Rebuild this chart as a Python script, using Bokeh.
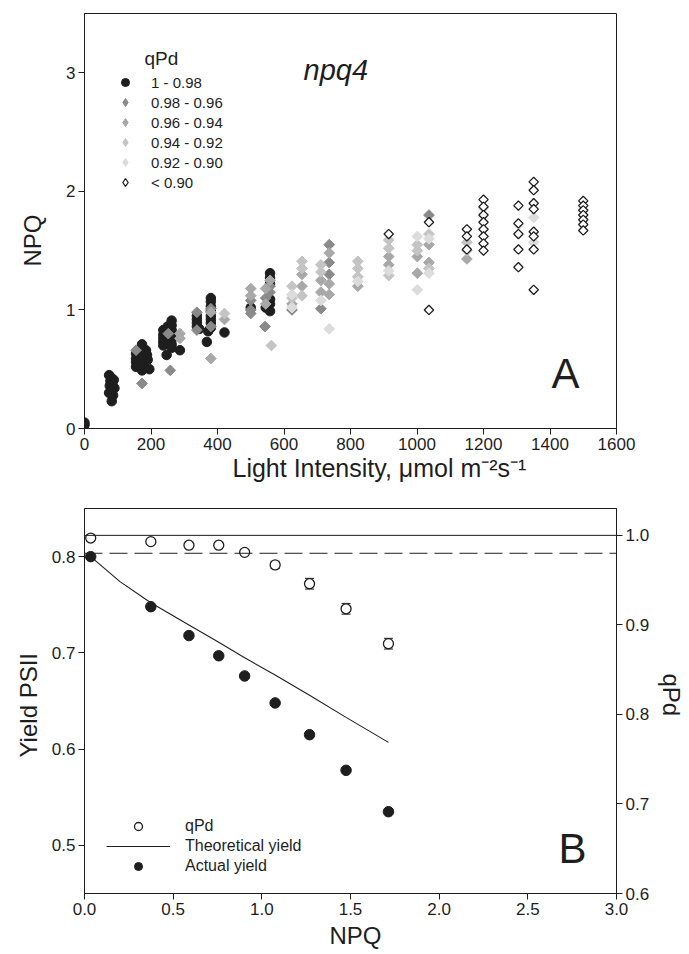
import numpy as np
from bokeh.plotting import figure
from bokeh.layouts import column
from bokeh.models import (ColumnDataSource, Range1d, LinearAxis, FixedTicker,
                          NumeralTickFormatter, Legend, LegendItem, Label, Span,
                          Whisker, TeeHead, Title)
from bokeh.embed import file_html
from bokeh.resources import INLINE

FONT = "Liberation Sans"
INK = "#1e1e1e"

# ---------------- Panel A: NPQ vs light intensity, by qPd class ----------------
light_c1 = [0, 0,
            74, 80, 88, 78, 84, 76, 90, 82, 74, 86, 82,
            155, 155, 155, 155, 173, 173, 173, 173, 173, 173, 185, 188, 190, 195,
            237, 237, 237, 237, 237, 247, 250, 250, 250, 262, 262, 262, 262, 262, 262, 262, 287,
            338, 338, 338, 338, 345,
            380, 380, 380, 380, 380, 380, 380, 380, 372, 368,
            421, 500,
            558, 558, 558, 558, 558, 545, 558]
npq_c1 = [0.03, 0.05,
          0.45, 0.43, 0.41, 0.40, 0.38, 0.36, 0.34, 0.32, 0.30, 0.28, 0.23,
          0.63, 0.59, 0.56, 0.52, 0.71, 0.67, 0.64, 0.60, 0.55, 0.49, 0.66, 0.62, 0.58, 0.50,
          0.83, 0.79, 0.76, 0.73, 0.70, 0.62, 0.86, 0.78, 0.74, 0.91, 0.87, 0.83, 0.79, 0.75, 0.71, 0.68, 0.66,
          0.95, 0.92, 0.89, 0.86, 0.84,
          1.10, 1.07, 1.03, 0.99, 0.95, 0.92, 0.89, 0.85, 0.82, 0.73,
          0.81, 1.02,
          1.31, 1.27, 1.22, 1.09, 1.05, 1.02, 0.99]

light_c2 = [155, 173, 252, 258, 338, 338, 380, 380, 500, 500, 500, 543, 545, 558, 558,
            624, 711, 736, 736, 736, 1036]
npq_c2 = [0.66, 0.38, 0.80, 0.49, 0.98, 0.83, 1.01, 0.86, 1.08, 1.00, 0.97, 0.86, 1.10, 1.20, 1.15,
          1.00, 1.01, 1.55, 1.40, 1.30, 1.80]

light_c3 = [287, 287, 380, 380, 421, 500, 500, 545, 545, 558, 624, 654, 654, 711, 711,
            736, 736, 736, 822, 915, 915, 1001, 1001, 1036, 1036, 1150]
npq_c3 = [0.80, 0.76, 0.59, 0.98, 0.92, 1.18, 1.12, 1.18, 1.05, 1.25, 1.05, 1.30, 1.20, 1.25, 1.15,
          1.48, 1.22, 1.13, 1.20, 1.45, 1.38, 1.45, 1.31, 1.55, 1.40, 1.43]

light_c4 = [421, 562, 624, 624, 654, 654, 654, 711, 711, 822, 822, 822, 915, 915, 915,
            1001, 1001, 1036, 1036, 1150, 1150]
npq_c4 = [0.97, 0.70, 1.20, 1.10, 1.41, 1.35, 1.12, 1.38, 1.32, 1.41, 1.35, 1.28, 1.59, 1.52, 1.29,
          1.55, 1.50, 1.64, 1.35, 1.57, 1.50]

light_c5 = [736, 624, 624, 711, 822, 915, 1001, 1001, 1036, 1036, 1200, 1200, 1305, 1351, 1351]
npq_c5 = [0.84, 1.13, 1.02, 1.08, 1.24, 1.33, 1.62, 1.17, 1.60, 1.31, 1.86, 1.62, 1.72, 1.78, 1.57]

light_c6 = [915, 1036, 1036, 1150, 1150, 1150,
            1200, 1200, 1200, 1200, 1200, 1200, 1200, 1200,
            1305, 1305, 1305, 1305, 1305,
            1351, 1351, 1351, 1351, 1351, 1351, 1351, 1351,
            1500, 1500, 1500, 1500, 1500, 1500, 1500]
npq_c6 = [1.64, 1.74, 1.00, 1.68, 1.62, 1.51,
          1.93, 1.87, 1.80, 1.74, 1.68, 1.62, 1.56, 1.50,
          1.88, 1.73, 1.64, 1.51, 1.36,
          2.08, 2.01, 1.90, 1.85, 1.66, 1.62, 1.51, 1.17,
          1.92, 1.88, 1.84, 1.80, 1.76, 1.72, 1.67]

class_labels = ["1 - 0.98", "0.98 - 0.96", "0.96 - 0.94", "0.94 - 0.92", "0.92 - 0.90", "< 0.90"]
class_fill = [INK, "#8a8a8a", "#a8a8a8", "#c4c4c4", "#dcdcdc", "white"]

x_ticks_a = [0, 200, 400, 600, 800, 1000, 1200, 1400, 1600]
y_ticks_a = [0, 1, 2, 3]

# ---------------- Panel B: yield and qPd vs NPQ ----------------
npq_b = [0.035, 0.374, 0.589, 0.757, 0.903, 1.075, 1.269, 1.475, 1.714]
qpd_b = [0.997, 0.993, 0.989, 0.989, 0.981, 0.967, 0.946, 0.918, 0.879]
qpd_err = [0.002, 0.002, 0.002, 0.002, 0.003, 0.004, 0.006, 0.006, 0.006]
yield_actual = [0.800, 0.748, 0.718, 0.697, 0.676, 0.648, 0.615, 0.578, 0.535]

npq_theory = [0.035, 0.20, 0.374, 0.589, 0.757, 0.903, 1.075, 1.269, 1.475, 1.714]
yield_theory = [0.800, 0.774, 0.752, 0.729, 0.711, 0.695, 0.677, 0.656, 0.633, 0.607]

qpd_ref_solid = 1.0
qpd_ref_dash = 0.98

x_ticks_b = [0.0, 0.5, 1.0, 1.5, 2.0, 2.5, 3.0]
y_ticks_b = [0.5, 0.6, 0.7, 0.8]
y2_ticks_b = [0.6, 0.7, 0.8, 0.9, 1.0]


def style_axis(ax, ticks, fmt=None):
    ax.ticker = FixedTicker(ticks=ticks)
    if fmt:
        ax.formatter = NumeralTickFormatter(format=fmt)
    ax.axis_line_color = INK
    ax.axis_line_width = 1
    ax.major_tick_line_color = INK
    ax.major_tick_out = 6
    ax.major_tick_in = 0
    ax.minor_tick_line_color = None
    ax.major_label_text_font = FONT
    ax.major_label_text_font_size = "17px"
    ax.major_label_text_color = INK
    ax.major_label_standoff = 3


def base_fig(width, height, xr, yr, borders):
    p = figure(width=width, height=height, x_range=xr, y_range=yr,
               output_backend="svg", toolbar_location=None,
               min_border_left=borders[0], min_border_right=borders[1],
               min_border_top=borders[2], min_border_bottom=borders[3])
    p.xgrid.visible = False
    p.ygrid.visible = False
    p.outline_line_color = INK
    p.outline_line_width = 1
    p.background_fill_color = "white"
    p.border_fill_color = "white"
    return p


def add_text(p, x, y, text, size, align="left", style="normal"):
    p.add_layout(Label(x=x, y=y, x_units="screen", y_units="screen", text=text,
                       text_font=FONT, text_font_size=size, text_color=INK,
                       text_align=align, text_baseline="middle",
                       text_font_style=style))


def add_axis_title(p, side, text, offset, standoff, size="24px"):
    p.add_layout(Title(text=text, align="left", offset=offset, standoff=standoff,
                       vertical_align="middle", text_font=FONT, text_font_size=size,
                       text_font_style="normal", text_color=INK), side)


# ---- figure A ----
pa = base_fig(689, 485, Range1d(0, 1600), Range1d(0, 3.5), (83, 70, 13, 57))
style_axis(pa.xaxis[0], x_ticks_a)
style_axis(pa.yaxis[0], y_ticks_a)

groups = [(light_c1, npq_c1), (light_c2, npq_c2), (light_c3, npq_c3),
          (light_c4, npq_c4), (light_c5, npq_c5), (light_c6, npq_c6)]
items = []
for i, ((lx, ny), lab, fc) in enumerate(zip(groups, class_labels, class_fill)):
    src = ColumnDataSource(dict(light=lx, npq=ny))
    if i == 0:
        r = pa.scatter("light", "npq", source=src, marker="circle", size=9.5,
                       fill_color=fc, line_color=fc)
        items.append(LegendItem(label=lab, renderers=[r]))
        continue
    if i == 5:
        style = dict(fill_color="white", line_color=INK, line_width=1.3)
        size = 6.6
    else:
        style = dict(fill_color=fc, line_color=fc)
        size = 7.6
    pa.scatter("light", "npq", source=src, marker="square", angle=np.pi / 4,
               size=size, **style)
    # legend key: an upright diamond that has no visible point in the plot area
    key = pa.scatter(x=[np.nan], y=[np.nan], marker="diamond", size=size, **style)
    items.append(LegendItem(label=lab, renderers=[key]))

leg_a = Legend(items=items, location=(31, 236), orientation="vertical",
               glyph_width=20, glyph_height=20, label_height=20, spacing=0,
               label_standoff=16, padding=0, margin=0,
               label_text_font=FONT, label_text_font_size="15px", label_text_color=INK,
               border_line_color=None, background_fill_alpha=0)
pa.add_layout(leg_a, "center")

add_text(pa, 60, 370, "qPd", "19px")
add_text(pa, 219, 359, "npq4", "29px", style="italic")
add_text(pa, 467, 55, "A", "42px")
add_axis_title(pa, "left", "NPQ", 162, 34)
add_axis_title(pa, "below", "Light Intensity, \u03bcmol m\u207b\u00b2s\u207b\u00b9", 148, 0, "25px")

# ---- figure B ----
pb = base_fig(689, 469, Range1d(0, 3.0), Range1d(0.45, 0.85), (81, 73, 23, 61))
pb.extra_y_ranges = {"qpd": Range1d(0.6, 1.03)}
style_axis(pb.xaxis[0], x_ticks_b, "0.0")
style_axis(pb.yaxis[0], y_ticks_b, "0.0")
ax_r = LinearAxis(y_range_name="qpd")
style_axis(ax_r, y2_ticks_b, "0.0")
pb.add_layout(ax_r, "right")

pb.add_layout(Span(location=qpd_ref_solid, dimension="width", y_range_name="qpd",
                   line_color=INK, line_width=1))
pb.add_layout(Span(location=qpd_ref_dash, dimension="width", y_range_name="qpd",
                   line_color=INK, line_width=1, line_dash="18 7"))

src_b = ColumnDataSource(dict(npq=npq_b, qpd=qpd_b,
                              lo=[q - e for q, e in zip(qpd_b, qpd_err)],
                              hi=[q + e for q, e in zip(qpd_b, qpd_err)],
                              ya=yield_actual))
src_t = ColumnDataSource(dict(npq=npq_theory, yt=yield_theory))

pb.add_layout(Whisker(source=src_b, base="npq", lower="lo", upper="hi", dimension="height",
                      y_range_name="qpd", line_color=INK, line_width=1, level="underlay",
                      lower_head=TeeHead(size=9, line_color=INK, line_width=1),
                      upper_head=TeeHead(size=9, line_color=INK, line_width=1)))

r_line = pb.line("npq", "yt", source=src_t, line_color=INK, line_width=1.1)
r_qpd = pb.scatter("npq", "qpd", source=src_b, y_range_name="qpd", marker="circle",
                   size=10, fill_color="white", line_color=INK, line_width=1.3)
r_act = pb.scatter("npq", "ya", source=src_b, marker="circle", size=10.5,
                   fill_color=INK, line_color=INK)

leg_b = Legend(items=[LegendItem(label="qPd", renderers=[r_qpd]),
                      LegendItem(label="Theoretical yield", renderers=[r_line]),
                      LegendItem(label="Actual yield", renderers=[r_act])],
               location=(22, 17), orientation="vertical",
               glyph_width=64, glyph_height=20, label_height=20, spacing=0,
               label_standoff=15, padding=0, margin=0,
               label_text_font=FONT, label_text_font_size="16px", label_text_color=INK,
               border_line_color=None, background_fill_alpha=0)
pb.add_layout(leg_b, "center")

add_text(pb, 474, 45, "B", "42px")
add_axis_title(pb, "left", "Yield PSII", 136, 12)
add_axis_title(pb, "right", "qPd", 165, 8)
add_axis_title(pb, "below", "NPQ", 245, 6)

layout = column(pa, pb)
open("out.html", "w").write(file_html(layout, INLINE))
